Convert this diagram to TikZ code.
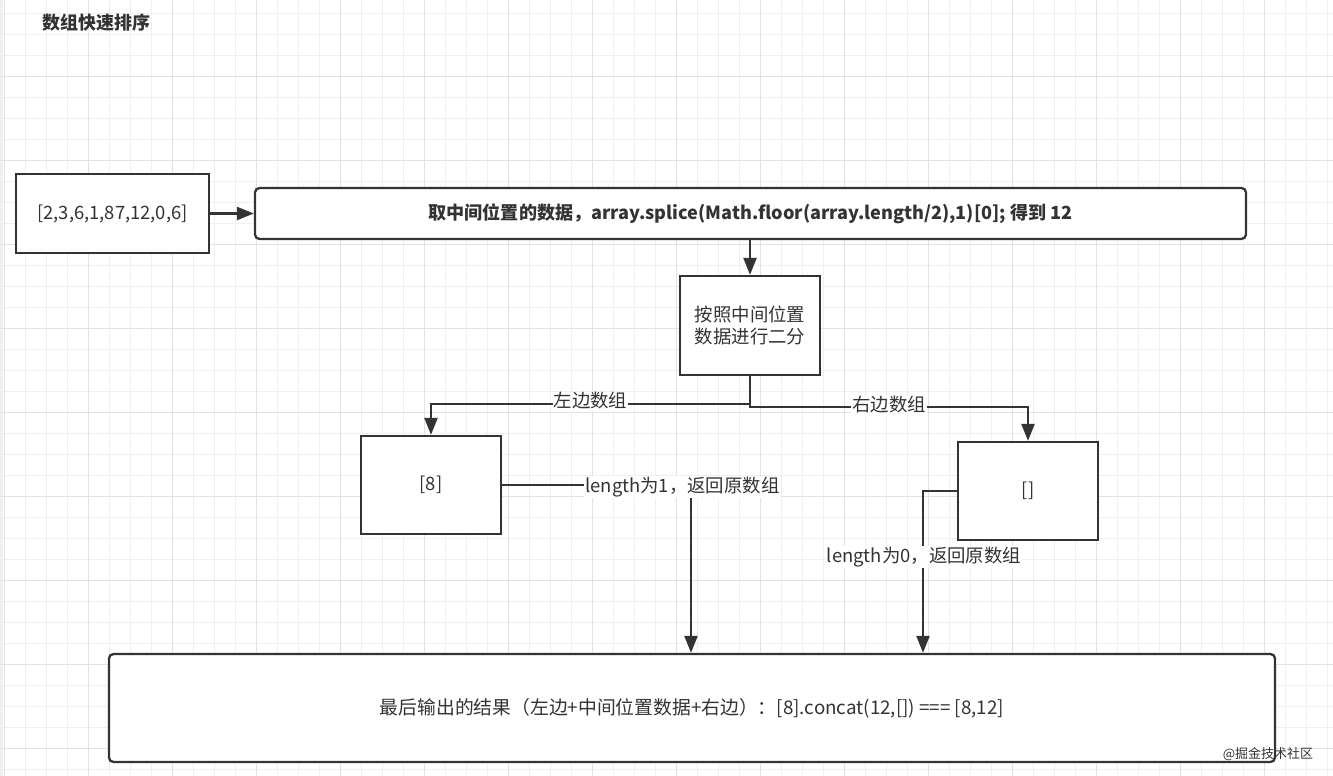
\documentclass[tikz,border=0pt]{standalone}
\usepackage{fontspec}
\setmainfont{Noto Sans CJK SC}
\usetikzlibrary{arrows.meta,calc}
\definecolor{ink}{HTML}{333333}
\definecolor{gminor}{HTML}{EFEFEF}
\definecolor{gmajor}{HTML}{E2E2E2}
\tikzset{
  box/.style={draw=ink, line width=2.3pt, fill=white, text=ink, font=\fontsize{18.4}{22}\selectfont, align=center, inner sep=0pt},
  rbox/.style={box, rounded corners=4.5pt},
  arr/.style={draw=ink, line width=2.3pt, -{Triangle[length=17pt,width=13pt]}},
  lbl/.style={fill=white, text=ink, font=\fontsize{18.4}{21}\selectfont, inner sep=1pt},
}
\begin{document}
\begin{tikzpicture}[x=1pt,y=-1pt]
\useasboundingbox (0,0) rectangle (1333,776);
\fill[white] (0,0) rectangle (1333,776);
\fill[gminor] (0,0) rectangle (3,776);
% grid
\foreach \i in {0,...,63} { \draw[gminor, line width=1pt] ({4.3+21*\i},0) -- ++(0,776); }
\foreach \j in {0,...,37} { \draw[gminor, line width=1pt] (0,{13.3+21*\j}) -- ++(1333,0); }
\foreach \i in {0,...,15} { \draw[gmajor, line width=1pt] ({4.3+84*\i},0) -- ++(0,776); }
\foreach \j in {1,...,9} { \draw[gmajor, line width=1pt] (0,{-7.7+84*\j}) -- ++(1333,0); }

% title
\node[text=ink, font=\fontsize{18}{20}\selectfont\bfseries] (title) at (96,23) {数组快速排序};

% boxes
\node[box, minimum width=193pt, minimum height=79pt] (b1) at (112.5,213.5) {[2,3,6,1,87,12,0,6]};
\node[rbox, minimum width=991pt, minimum height=51pt, font=\fontsize{18.1}{21}\selectfont\bfseries] (b2) at (750.5,213.5) {取中间位置的数据，array.splice(Math.floor(array.length/2),1)[0]; 得到 12};
\node[box, minimum width=140pt, minimum height=99pt] (b3) at (750,325.5) {按照中间位置\\数据进行二分};
\node[box, minimum width=140pt, minimum height=98pt] (b4) at (431,485) {[8]};
\node[box, minimum width=140pt, minimum height=98pt] (b5) at (1028,491) {[]};
\node[rbox, minimum width=1166pt, minimum height=108pt, font=\fontsize{18.8}{22}\selectfont] (b6) at (692,708) {最后输出的结果（左边+中间位置数据+右边）：[8].concat(12,[]) === [8,12]};

% watermark
\node[text=ink, font=\fontsize{13}{15}\selectfont] (wm) at (1268,754) {@掘金技术社区};

% connectors
\coordinate (cl) at (431,404);
\coordinate (cr) at (1028,407);
\coordinate (c1) at (691,485);
\coordinate (c2) at (923,491);

\draw[arr] (b1) -- (b2);
\draw[arr] (b2.south -| b3) -- (b3);
\draw[arr] (b3.south) |- (cl) node[lbl, pos=0.75, yshift=3pt] {左边数组} -- (b4.north);
\draw[arr] (b3.south) |- (cr) node[lbl, pos=0.75, yshift=2pt] {右边数组} -- (b5.north);
\draw[arr] (b4.east) -- (c1) -- (b6.north -| c1);
\node[lbl] (l1) at (682.5,487) {length为1，返回原数组};
\draw[arr] (b5.west) -- (c2) -- (b6.north -| c2);
\node[lbl] (l2) at (924,557) {length为0，返回原数组};
\end{tikzpicture}
\end{document}
